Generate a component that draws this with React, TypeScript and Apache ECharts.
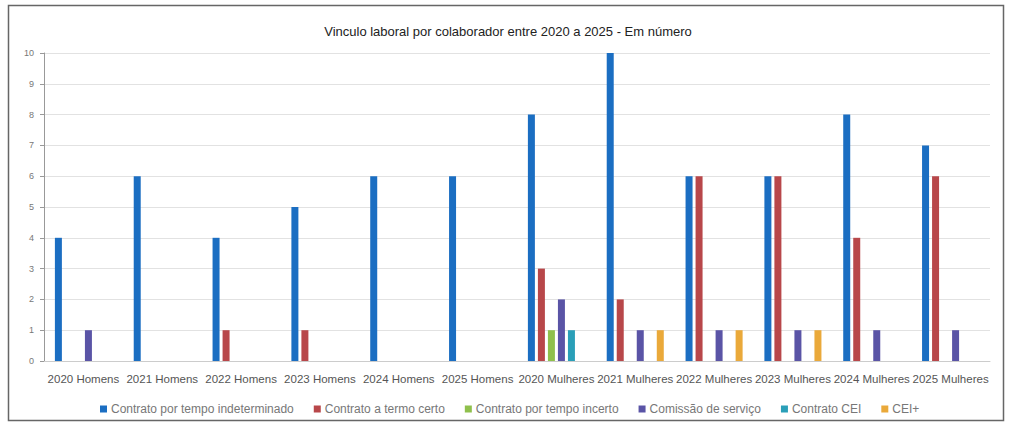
import React, { useEffect, useRef } from "react";
import * as echarts from "echarts";

const categories = [
  "2020 Homens", "2021 Homens", "2022 Homens", "2023 Homens", "2024 Homens", "2025 Homens",
  "2020 Mulheres", "2021 Mulheres", "2022 Mulheres", "2023 Mulheres", "2024 Mulheres", "2025 Mulheres",
];
const indeterminado = [4, 6, 4, 5, 6, 6, 8, 10, 6, 6, 8, 7];
const termoCerto = [0, 0, 1, 1, 0, 0, 3, 2, 6, 6, 4, 6];
const tempoIncerto = [0, 0, 0, 0, 0, 0, 1, 0, 0, 0, 0, 0];
const comissao = [1, 0, 0, 0, 0, 0, 2, 1, 1, 1, 1, 1];
const contratoCEI = [0, 0, 0, 0, 0, 0, 1, 0, 0, 0, 0, 0];
const ceiPlus = [0, 0, 0, 0, 0, 0, 0, 1, 1, 1, 0, 0];
const yTicks = [0, 10, 1];

const seriesDefs = [
  { name: "Contrato por tempo indeterminado", data: indeterminado, color: "#1b6ec2" },
  { name: "Contrato a termo certo", data: termoCerto, color: "#b8474a" },
  { name: "Contrato por tempo incerto", data: tempoIncerto, color: "#8fc04c" },
  { name: "Comissão de serviço", data: comissao, color: "#5a54a6" },
  { name: "Contrato CEI", data: contratoCEI, color: "#2a9fb8" },
  { name: "CEI+", data: ceiPlus, color: "#eaa93a" },
];

export default function App() {
  const ref = useRef<HTMLDivElement>(null);
  useEffect(() => {
    if (!ref.current) return;
    const chart = echarts.init(ref.current, null, { renderer: "svg" });
    chart.setOption({
      animation: false,
      backgroundColor: "#ffffff",
      title: {
        text: "Vinculo laboral por colaborador entre 2020 a 2025 - Em número",
        left: 503,
        textAlign: "center",
        top: 20,
        textStyle: { fontFamily: "Liberation Sans", fontSize: 13, fontWeight: "normal", color: "#222" },
      },
      graphic: [
        {
          type: "rect",
          shape: { x: 8.5, y: 5.5, width: 995, height: 415 },
          style: { fill: "none", stroke: "#666", lineWidth: 1.5 },
          silent: true,
        },
      ],
      legend: {
        top: 398,
        left: 95,
        itemWidth: 7,
        itemHeight: 7,
        itemGap: 20,
        icon: "rect",
        textStyle: { fontFamily: "Liberation Sans", fontSize: 12, color: "#777", padding: [0, 0, 0, -1] },
        data: seriesDefs.map((s) => s.name),
      },
      grid: { left: 44, right: 20, top: 53, bottom: 62, containLabel: false },
      xAxis: {
        type: "category",
        data: categories,
        axisLine: { lineStyle: { color: "#ccc" } },
        axisTick: { show: false },
        axisLabel: { interval: 0, fontFamily: "Liberation Sans", fontSize: 11.5, color: "#555", margin: 12 },
      },
      yAxis: {
        type: "value",
        min: yTicks[0],
        max: yTicks[1],
        interval: yTicks[2],
        axisLine: { show: true, lineStyle: { color: "#999" } },
        axisTick: { show: true, length: 4, lineStyle: { color: "#999" } },
        axisLabel: { fontFamily: "Liberation Sans", fontSize: 9, color: "#777", margin: 10 },
        splitLine: { lineStyle: { color: "#e2e2e2" } },
      },
      series: seriesDefs.map((s) => ({
        name: s.name,
        type: "bar",
        data: s.data,
        barWidth: 7,
        barGap: "43%",
        itemStyle: { color: s.color },
      })),
    });
    return () => chart.dispose();
  }, []);
  return (
    <div
      ref={ref}
      style={{ position: "fixed", left: 0, top: 0, width: 1010, height: 423 }}
    />
  );
}
